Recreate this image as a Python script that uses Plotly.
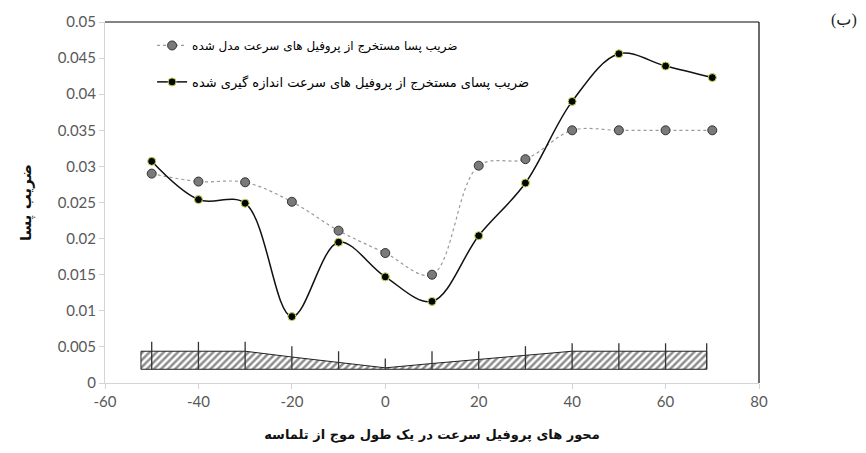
import plotly.graph_objects as go

# Profile positions along one dune wavelength
positions = [-50, -40, -30, -20, -10, 0, 10, 20, 30, 40, 50, 60, 70]

# Drag coefficient from modelled velocity profiles
cd_model = [0.0290, 0.0279, 0.0278, 0.0251, 0.0211, 0.0180, 0.0150,
            0.0301, 0.0310, 0.0350, 0.0350, 0.0350, 0.0350]

# Drag coefficient from measured velocity profiles
cd_measured = [0.0307, 0.0254, 0.0249, 0.0092, 0.0195, 0.0147, 0.0113,
               0.0204, 0.0277, 0.0390, 0.0456, 0.0439, 0.0423]

# Dune bed schematic (hatched) drawn beneath the curves
dune_x = [-52.3, -50, -40, -30, -20, -10, 0, 10, 20, 30, 40, 50, 60, 68.8]
dune_top = [0.0044, 0.0044, 0.0044, 0.0044, 0.0036, 0.0028, 0.0021,
            0.0027, 0.0033, 0.0039, 0.0044, 0.0044, 0.0044, 0.0044]
dune_base = 0.0019

# Measuring stations marked on the schematic
station_x = [-50, -40, -30, -20, -10, 0, 10, 20, 30, 40, 50, 60, 68.8]
station_top = [0.0057, 0.0057, 0.0057, 0.0051, 0.0044, 0.0034, 0.0044,
               0.0044, 0.0051, 0.0055, 0.0055, 0.0055, 0.0055]

x_ticks = [-60, -40, -20, 0, 20, 40, 60, 80]
x_tick_labels = ["-60", "-40", "-20", "0", "20", "40", "60", "80"]

name_model = "ضریب پسا مستخرج از پروفیل های سرعت مدل شده"
name_measured = "ضریب پسای مستخرج از پروفیل های سرعت اندازه گیری شده"
x_title = "محور های پروفیل سرعت در یک طول موج از تلماسه"
y_title = "ضریب پسا"

fa_font = "DejaVu Sans"
num_font = "Lato"

fig = go.Figure()

# hatched dune body
poly_x = dune_x + dune_x[::-1] + [dune_x[0]]
poly_y = dune_top + [dune_base] * len(dune_x) + [dune_top[0]]
fig.add_trace(go.Scatter(
    x=poly_x, y=poly_y, mode="lines", fill="toself",
    fillcolor="white",
    fillpattern=dict(shape="/", fgcolor="#1e1e1e", bgcolor="white",
                     size=5, solidity=0.5),
    line=dict(color="#222222", width=1),
    showlegend=False, hoverinfo="skip",
))

# station markers
sx, sy = [], []
for xv, top in zip(station_x, station_top):
    sx += [xv, xv, None]
    sy += [dune_base, top, None]
fig.add_trace(go.Scatter(
    x=sx, y=sy, mode="lines",
    line=dict(color="#333333", width=1.3),
    showlegend=False, hoverinfo="skip",
))

fig.add_trace(go.Scatter(
    x=positions, y=cd_model, mode="lines+markers", name=name_model,
    line=dict(color="#9a9a9a", width=1.2, dash="3px,3px",
              shape="spline", smoothing=1.0),
    marker=dict(size=9, color="#7a7a7a", line=dict(color="#333333", width=1)),
    legend="legend",
))

fig.add_trace(go.Scatter(
    x=positions, y=cd_measured, mode="lines+markers", name=name_measured,
    line=dict(color="#111111", width=1.5, shape="spline", smoothing=1.0),
    marker=dict(size=8, color="#050505", line=dict(color="#c9dc55", width=1)),
    legend="legend2",
))

legend_common = dict(
    bgcolor="rgba(0,0,0,0)", borderwidth=0,
    xanchor="left", yanchor="middle", itemwidth=30,
)

fig.update_layout(
    width=866, height=453,
    margin=dict(l=105, r=107, t=18, b=70),
    paper_bgcolor="white", plot_bgcolor="white",
    showlegend=True,
    legend=dict(x=0.072, y=0.935,
                font=dict(family=fa_font, size=12, color="#000000"),
                **legend_common),
    legend2=dict(x=0.072, y=0.834,
                 font=dict(family=fa_font, size=13, color="#000000"),
                 **legend_common),
    xaxis=dict(
        range=[-60, 80], tickvals=x_ticks, ticktext=x_tick_labels,
        showgrid=False, zeroline=False,
        showline=True, linecolor="#d4d4d4", linewidth=1,
        ticks="outside", ticklen=5, tickcolor="#d4d4d4",
        tickfont=dict(family=num_font, size=15, color="#595959"),
        title=dict(text="<b>" + x_title + "</b>", standoff=20,
                   font=dict(family=fa_font, size=13, color="#111111")),
    ),
    yaxis=dict(
        range=[0, 0.05], dtick=0.005, showgrid=False, zeroline=False,
        showline=True, linecolor="#d4d4d4", linewidth=1,
        ticks="outside", ticklen=5, tickcolor="#d4d4d4",
        tickfont=dict(family=num_font, size=15, color="#595959"),
        title=dict(text="<b>" + y_title + "</b>", standoff=22,
                   font=dict(family=fa_font, size=15, color="#111111")),
    ),
    shapes=[
        # darker frame on the top and right edges
        dict(type="line", xref="paper", yref="paper", x0=0, x1=1, y0=1, y1=1,
             line=dict(color="#5a5a5a", width=1.5)),
        dict(type="line", xref="paper", yref="paper", x0=1, x1=1, y0=0, y1=1,
             line=dict(color="#3a3a3a", width=1.5)),
    ],
    annotations=[
        dict(text="(ب)", xref="paper", yref="paper", x=1.13, y=1.005,
             xanchor="center", yanchor="middle", showarrow=False,
             font=dict(family="Liberation Serif, DejaVu Sans", size=16,
                       color="#222222")),
    ],
)

fig.write_html("out.html")
